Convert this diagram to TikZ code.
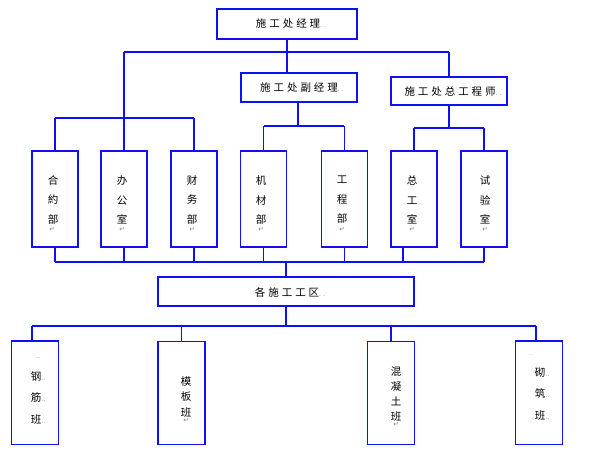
\documentclass[tikz,border=0pt]{standalone}
\usepackage{fontspec}
\newfontfamily\cjk{Noto Sans CJK SC}
\newfontfamily\cjkw[LetterSpace=28]{Noto Sans CJK SC}
\newfontfamily\symf{DejaVu Sans}
\definecolor{lineblue}{RGB}{15,15,250}
\newcommand\pmk{{\symf\fontsize{6.5}{6.5}\selectfont\color{gray}↵}}
\newcommand\dd{{\fontsize{7}{7}\selectfont\color{gray}..}}
\begin{document}
\begin{tikzpicture}[x=1pt,y=-1pt,
  ob/.style={draw=lineblue, line width=1.4pt, fill=white, inner sep=0pt},
  tall/.style={ob, minimum width=46pt, minimum height=96pt},
  low/.style={ob, minimum width=47pt, minimum height=103.5pt},
  ln/.style={draw=lineblue, line width=1.2pt},
  tx/.style={inner sep=0pt, font=\cjkw\fontsize{10.5}{12}\selectfont},
  vt/.style={inner sep=0pt, align=center, font=\cjk\fontsize{10.5}{19.5}\selectfont},
  vs/.style={inner sep=0pt, align=center, font=\cjk\fontsize{10.5}{15.2}\selectfont},
  vw/.style={inner sep=0pt, align=center, font=\cjk\fontsize{10.5}{21.5}\selectfont},
  pm/.style={inner sep=0pt}]
\useasboundingbox[fill=white] (0,0) rectangle (600,450);

% boxes
\node[ob, minimum width=140pt, minimum height=30pt] (top) at (287,24) {};
\node[ob, minimum width=116pt, minimum height=29pt] (dep) at (299,87.5) {};
\node[ob, minimum width=116pt, minimum height=28pt] (chief) at (449,91) {};
\node[tall] (b1) at (55,199) {};
\node[tall] (b2) at (124,199) {};
\node[tall] (b3) at (194,199) {};
\node[tall] (b4) at (263.5,199) {};
\node[tall] (b5) at (344.5,199) {};
\node[tall] (b6) at (414,199) {};
\node[tall] (b7) at (484,199) {};
\node[ob, minimum width=256pt, minimum height=29pt] (area) at (286,291.5) {};
\node[low] (c1) at (35,392.75) {};
\node[low] (c2) at (181.5,393) {};
\node[low] (c3) at (391,393) {};
\node[low] (c4) at (539,392.75) {};

% texts
\node[tx] (ttop) at (291,24) {施工处经理\dd};
\node[tx] (tdep) at (302,88) {施工处副经理\dd};
\node[tx] (tchief) at (453,92) {施工处总工程师\dd};
\node[tx] (tarea) at (290,292) {各施工工区\dd};
\node[vt] (t1) at (53,199.5) {合\\約\\部};
\node[vt] (t2) at (122,200) {办\\公\\室};
\node[vt] (t3) at (192,200) {财\\务\\部};
\node[vt] (t4) at (261,200) {机\\材\\部};
\node[vt] (t5) at (342,200) {工\\程\\部};
\node[vt] (t6) at (412,200) {总\\工\\室};
\node[vt] (t7) at (485,200) {试\\验\\室};
\foreach \x/\n in {52/1,122/2,192/3,261/4,342/5,412/6,485/7}
  \node[pm] (m\n) at (\x,229) {\pmk};
\node[vw] (tc1) at (38,391) {\dd\\钢\dd\\筋\dd\\班\dd};
\node[vs] (tc2) at (186,397) {模\\板\\班};
\node[pm] (mc2) at (186,420) {\pmk};
\node[vs] (tc3) at (396,394) {混\\凝\\土\\班};
\node[pm] (mc3) at (396,424) {\pmk};
\node[inner sep=0pt] (tc4a) at (531,355) {\dd};
\node[vw] (tc4) at (542,394) {砌\dd\\筑\dd\\班\dd};

% coordinates
\coordinate (hL) at (124,52);
\coordinate (hR) at (449,52);
\coordinate (g1L) at (55,118);
\coordinate (g1R) at (194,118);
\coordinate (g2L) at (264,126);
\coordinate (g2R) at (344,126);
\coordinate (g3L) at (414,128);
\coordinate (g3R) at (484,128);
\coordinate (g4L) at (55,262);
\coordinate (g4R) at (484,262);
\coordinate (b6s) at (403,247);
\coordinate (dps) at (298,102);
\coordinate (g5L) at (32,326);
\coordinate (g5R) at (536,326);
\coordinate (c1t) at (32,341);
\coordinate (c4t) at (536,341);

% connectors
\draw[ln] (top.south) -- (top.south |- hL);
\draw[ln] (hL) -- (hR);
\draw[ln] (top.south |- hL) -- (top.south |- dep.north);
\draw[ln] (hR) -- (chief.north);
\draw[ln] (hL) -- (hL |- g1L);
\draw[ln] (g1L) -- (g1R);
\foreach \n in {b1,b2,b3} \draw[ln] (\n.north) -- (\n.north |- g1L);
\draw[ln] (dps) -- (dps |- g2L);
\draw[ln] (g2L) -- (g2R);
\foreach \n in {b4,b5} \draw[ln] (\n.north) -- (\n.north |- g2L);
\draw[ln] (chief.south) -- (chief.south |- g3L);
\draw[ln] (g3L) -- (g3R);
\foreach \n in {b6,b7} \draw[ln] (\n.north) -- (\n.north |- g3L);
\draw[ln] (g4L) -- (g4R);
\foreach \n in {b1,b2,b3,b4,b5,b7} \draw[ln] (\n.south) -- (\n.south |- g4L);
\draw[ln] (b6s) -- (b6s |- g4L);
\draw[ln] (area.north) -- (area.north |- g4L);
\draw[ln] (area.south) -- (area.south |- g5L);
\draw[ln] (g5L) -- (g5R);
\draw[ln] (c1t) -- (c1t |- g5L);
\foreach \n in {c2,c3} \draw[ln] (\n.north) -- (\n.north |- g5L);
\draw[ln] (c4t) -- (c4t |- g5L);
\end{tikzpicture}
\end{document}
